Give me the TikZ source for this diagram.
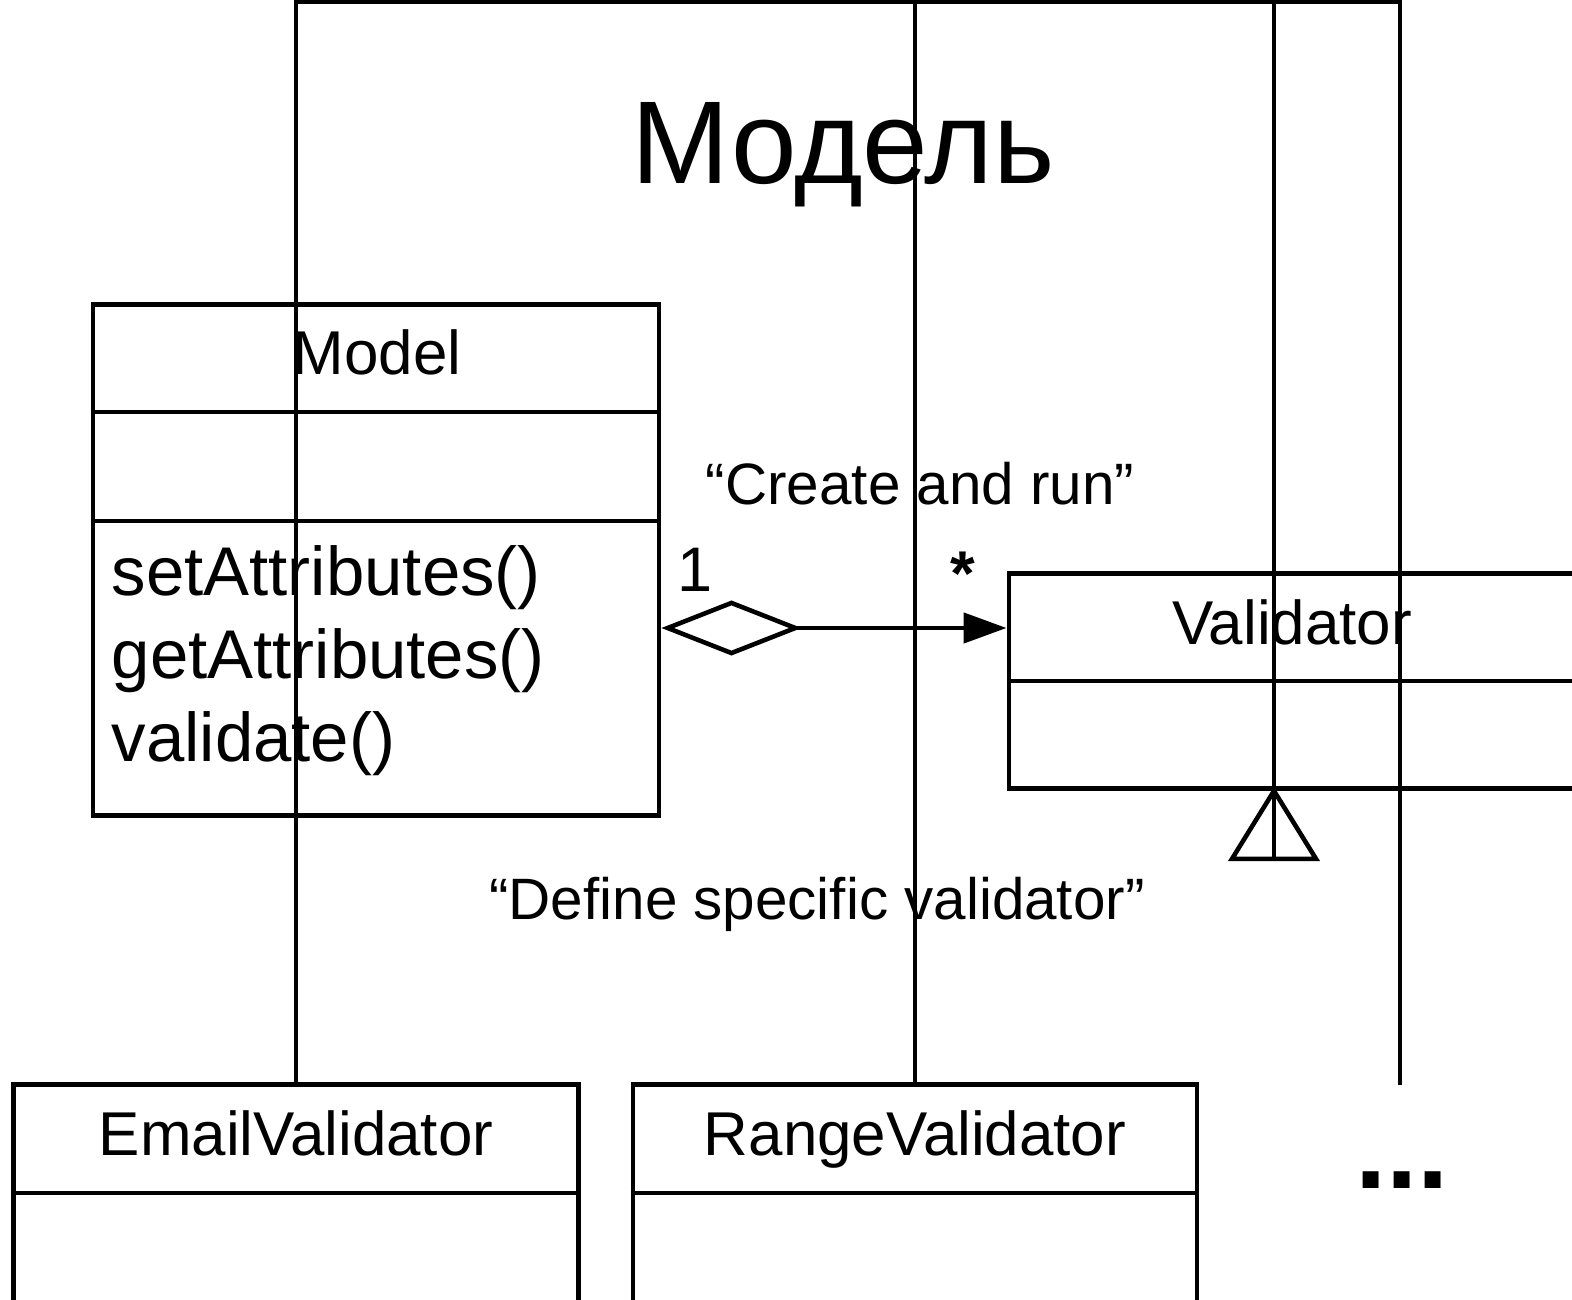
\documentclass[tikz,border=0pt]{standalone}
\usepackage{fontspec}
\setmainfont{Liberation Sans}
\usetikzlibrary{arrows.meta}
\tikzset{
	umlline/.style={line width=1.3pt},%
	classbox/.style={draw,line width=1.3pt,inner sep=0pt},%
	classname/.style={font=\fontsize{17.6}{21}\selectfont,anchor=base,inner sep=0pt},%
	method/.style={font=\fontsize{19.6}{23.6}\selectfont,anchor=base west,inner sep=0pt},%
	remark/.style={font=\fontsize{16.6}{20}\selectfont,anchor=base,inner sep=0pt},%
	headline/.style={font=\fontsize{33.5}{40}\selectfont,anchor=base,inner sep=0pt},%
	aggregation/.style={umlline,{Diamond[open,length=1.4cm,width=0.55cm]}-{Triangle[length=0.43cm,width=0.3cm]}},%
}
\def\topline{2}

\begin{document}
\begin{tikzpicture}[x=0.01cm,y=-0.01cm]
		\useasboundingbox (0,0) rectangle (1572,1300);
		\clip (0,0) rectangle (1572,1300);
		\node[headline] (titel) at (843,184) {Модель};
		% classes
		\node[classbox,minimum width=5.66cm,minimum height=5.11cm] (model) at (376,560) {};
		\node[classbox,minimum width=5.94cm,minimum height=2.15cm] (validator) at (1306,681) {};
		\node[classbox,minimum width=5.65cm,minimum height=3.17cm] (email) at (296,1243) {};
		\node[classbox,minimum width=5.64cm,minimum height=3.17cm] (range) at (915,1243) {};
		\draw[umlline] (model.west |- 0,412) -- (model.east |- 0,412) (model.west |- 0,521) -- (model.east |- 0,521)%
		(validator.west) -- (validator.east)%
		(email.west |- 0,1193) -- (email.east |- 0,1193) (range.west |- 0,1193) -- (range.east |- 0,1193)%
		;
		\node[classname] (modelname) at (377,374) {Model};
		\foreach \m [count=\i] in {setAttributes(),getAttributes(),validate()}
			\node[method] (method\i) at (111,512+83*\i) {\m};
		\node[classname] (validatorname) at (1292,644) {Validator};
		\node[classname] (emailname) at (296,1155) {EmailValidator};
		\node[classname] (rangename) at (915,1155) {RangeValidator};
		\node[font=\bfseries\fontsize{32}{38}\selectfont,anchor=base,inner sep=0pt] (more) at (1402,1188) {...};
		% aggregation
		\coordinate (aggstart) at (model.east |- 0,628);
		\coordinate (aggend) at (validator.west |- 0,628);
		\draw[aggregation] (aggstart) -- (aggend);
		\node[remark] (createrun) at (920,504) {“Create and run”};
		\node[remark,font=\fontsize{17.9}{21}\selectfont] (one) at (695,591) {1};
		\node[remark,font=\bfseries\fontsize{18}{21}\selectfont] (many) at (963,595) {*};
		% generalization
		\coordinate (gentip) at (validator.south -| 1274,0);
		\coordinate (topleft) at (email.north |- 0,\topline);
		\coordinate (topright) at (1400,\topline);
		\coordinate (moretop) at (1400,1085);
		\draw[umlline] (email.north) -- (topleft) -- (topright) -- (moretop);
		\draw[umlline] (range.north) -- (range.north |- topleft);
		\draw[umlline] (gentip |- topleft) -- ([yshift=-0.69cm]gentip);
		\draw[umlline,line join=miter] (gentip) -- ++(-42,68) -- ++(84,0) -- cycle;
		\node[remark] (definespecific) at (817,919) {“Define specific validator”};
	\end{tikzpicture}
\end{document}
